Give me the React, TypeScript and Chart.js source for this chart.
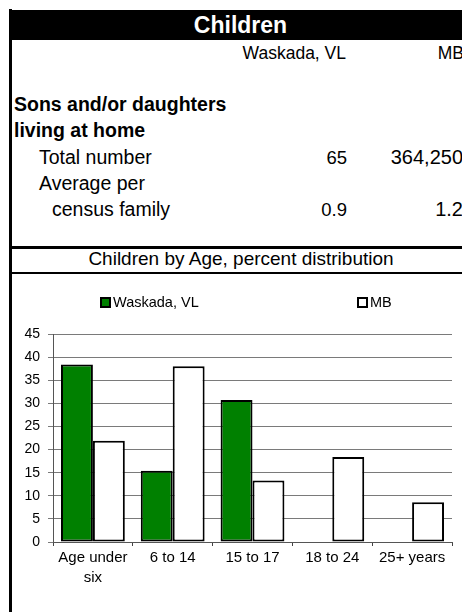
import React, { useEffect, useRef } from "react";
import { Chart, registerables } from "chart.js";

Chart.register(...registerables);

const categories: (string | string[])[] = [["Age under", "six"], "6 to 14", "15 to 17", "18 to 24", "25+ years"];
const waskadaValues = [38.4, 15.4, 30.7, 0, 0];
const mbValues = [21.9, 38.0, 13.3, 18.4, 8.6];
const seriesNames = ["Waskada, VL", "MB"];
const yTickMax = 45;
const yTickStep = 5;

const FONT = "'Liberation Sans', Arial, sans-serif";

const legendPlugin = {
  id: "spreadLegend",
  afterDraw(chart: any) {
    const ctx = chart.ctx;
    const xs = [89, 346];
    const cy = 27;
    ctx.save();
    ctx.font = `14.5px ${FONT}`;
    ctx.textBaseline = "middle";
    ctx.textAlign = "left";
    chart.data.datasets.forEach((ds: any, i: number) => {
      const x = xs[i];
      ctx.fillStyle = ds.backgroundColor;
      ctx.fillRect(x, cy - 4, 9, 9);
      ctx.lineWidth = 2;
      ctx.strokeStyle = "#000";
      ctx.strokeRect(x, cy - 4, 9, 9);
      ctx.fillStyle = "#000";
      ctx.fillText(ds.label, x + 12, cy + 1);
    });
    ctx.restore();
  },
};

function BarChart() {
  const ref = useRef<HTMLCanvasElement | null>(null);
  useEffect(() => {
    if (!ref.current) return;
    const chart = new Chart(ref.current, {
      type: "bar",
      data: {
        labels: categories,
        datasets: [
          {
            label: seriesNames[0],
            data: waskadaValues,
            backgroundColor: "#008000",
            borderColor: "#000",
            borderWidth: 2,
            borderSkipped: false,
            categoryPercentage: 0.8,
            barPercentage: 1.0,
          },
          {
            label: seriesNames[1],
            data: mbValues,
            backgroundColor: "#ffffff",
            borderColor: "#000",
            borderWidth: 2,
            borderSkipped: false,
            categoryPercentage: 0.8,
            barPercentage: 1.0,
          },
        ],
      },
      options: {
        responsive: false,
        animation: false,
        devicePixelRatio: 1,
        layout: { padding: { top: 59, left: 12, right: 10, bottom: 0 } },
        plugins: {
          legend: { display: false },
          tooltip: { enabled: false },
          title: { display: false },
        },
        scales: {
          x: {
            offset: true,
            afterFit: (s: any) => {
              s.height = 70;
            },
            grid: {
              display: true,
              offset: true,
              drawOnChartArea: false,
              drawTicks: true,
              tickLength: 4,
              color: "#444",
            },
            border: { display: true, color: "#555", width: 1 },
            ticks: {
              color: "#000",
              font: { family: FONT, size: 15, lineHeight: 1.33 },
              padding: 2,
              maxRotation: 0,
              autoSkip: false,
            },
          },
          y: {
            min: 0,
            max: yTickMax,
            afterFit: (s: any) => {
              s.width = 29;
            },
            grid: {
              color: "#7a7a7a",
              lineWidth: 1,
              tickLength: 5,
              drawTicks: true,
            },
            border: { display: true, color: "#555", width: 1 },
            ticks: {
              stepSize: yTickStep,
              color: "#000",
              font: { family: FONT, size: 14 },
              padding: 8,
            },
          },
        },
      },
      plugins: [legendPlugin],
    });
    return () => chart.destroy();
  }, []);
  return <canvas ref={ref} width={450} height={337} style={{ position: "absolute", left: 12, top: 275, width: 450, height: 337 }} />;
}

const abs = (o: React.CSSProperties): React.CSSProperties => ({ position: "absolute", whiteSpace: "nowrap", ...o });

export default function App() {
  const t = { fontFamily: FONT, fontSize: 17.5, lineHeight: "20px", color: "#000" };
  const num = { fontFamily: FONT, fontSize: 18.5, lineHeight: "22px", color: "#000" };
  const big = { fontFamily: FONT, fontSize: 19.5, lineHeight: "22px", color: "#000" };
  const mb = { fontFamily: FONT, fontSize: 20, lineHeight: "22px", color: "#000" };
  return (
    <div style={{ position: "absolute", left: 0, top: 0, width: 462, height: 612, overflow: "hidden", background: "#fff", fontFamily: FONT }}>
      <div style={abs({ left: 9, top: 9, width: 3, height: 603, background: "#000" })} />
      <div style={abs({ left: 9, top: 10, width: 453, height: 30, background: "#000" })} />
      <div style={abs({ left: 9, top: 10, width: 463, height: 30, lineHeight: "30px", textAlign: "center", color: "#fff", fontWeight: "bold", fontSize: 23 })}>Children</div>

      <div style={abs({ ...t, left: 0, top: 43, width: 346, textAlign: "right" })}>Waskada, VL</div>
      <div style={abs({ ...t, left: 0, top: 43, width: 464, textAlign: "right" })}>MB</div>

      <div style={abs({ ...big, left: 14, top: 93, fontWeight: "bold" })}>Sons and/or daughters</div>
      <div style={abs({ ...big, left: 14, top: 119, fontWeight: "bold" })}>living at home</div>
      <div style={abs({ ...big, left: 39, top: 146 })}>Total number</div>
      <div style={abs({ ...num, left: 0, top: 147, width: 347, textAlign: "right" })}>65</div>
      <div style={abs({ ...mb, left: 0, top: 146, width: 463, textAlign: "right" })}>364,250</div>
      <div style={abs({ ...big, left: 39, top: 172 })}>Average per</div>
      <div style={abs({ ...big, left: 52, top: 198 })}>census family</div>
      <div style={abs({ ...num, left: 0, top: 199, width: 347, textAlign: "right" })}>0.9</div>
      <div style={abs({ ...mb, left: 0, top: 198, width: 463, textAlign: "right" })}>1.2</div>

      <div style={abs({ left: 9, top: 246, width: 453, height: 3, background: "#000" })} />
      <div style={abs({ fontFamily: FONT, fontSize: 19, lineHeight: "22px", color: "#000", left: 9, top: 248, width: 464, textAlign: "center" })}>Children by Age, percent distribution</div>
      <div style={abs({ left: 9, top: 272, width: 453, height: 2, background: "#000" })} />

      <BarChart />
    </div>
  );
}
